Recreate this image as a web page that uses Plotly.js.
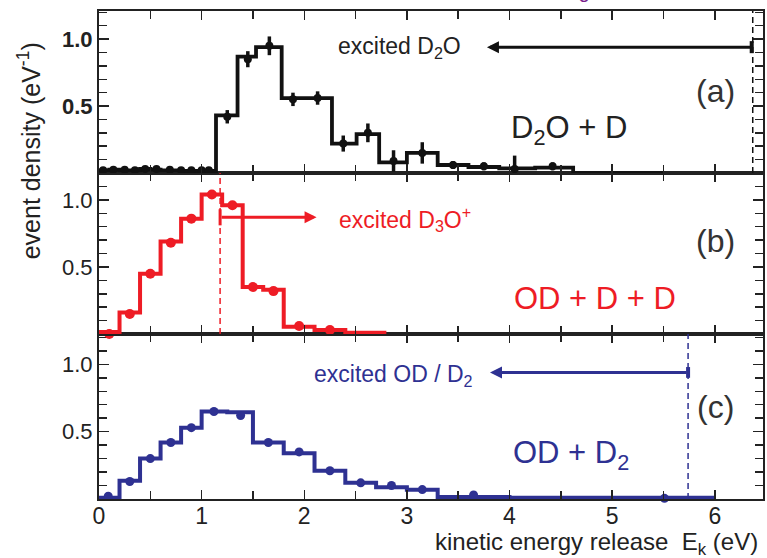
<!DOCTYPE html>
<html><head><meta charset="utf-8">
<script src="https://cdn.plot.ly/plotly-3.0.1.min.js"></script>
<style>html,body{margin:0;padding:0;background:#fff}#chart{width:767px;height:558px}</style>
</head><body><div id="chart"></div>
<script>
// ---- Panel (a): D2O + D (black) ----
const aEdges  = [0,0.1,0.2,0.3,0.4,0.5,0.6,0.7,0.8,0.9,1.0,1.14,1.35,1.53,1.78,2.03,2.27,2.51,2.73,3.0,3.3,3.6,3.9,4.25,4.62,5.5];
const aLevels = [0.02,0.025,0.02,0.02,0.03,0.025,0.02,0.02,0.015,0.015,0.015,0.43,0.87,0.94,0.56,0.56,0.22,0.29,0.08,0.15,0.06,0.045,0.035,0.04,0.0];
const aPtsX   = [0.04,0.14,0.25,0.35,0.45,0.56,0.69,0.8,0.9,1.0,1.07,1.25,1.45,1.66,1.89,2.13,2.38,2.62,2.87,3.15,3.45,3.75,4.05,4.42];
const aPtsY   = [0.02,0.025,0.025,0.02,0.03,0.03,0.025,0.02,0.02,0.02,0.02,0.42,0.85,0.95,0.55,0.56,0.22,0.30,0.09,0.15,0.06,0.05,0.03,0.05];
const aPtsErr = [0.02,0.02,0.02,0.02,0.02,0.02,0.02,0.02,0.02,0.02,0.02,0.05,0.06,0.07,0.05,0.05,0.06,0.07,0.08,0.08,0.03,0.03,0.10,0.03];

// ---- Panel (b): OD + D + D (red) ----
const bEdges  = [0,0.2,0.4,0.6,0.8,1.0,1.2,1.4,1.6,1.8,2.1,2.4,2.8];
const bLevels = [0.015,0.16,0.45,0.69,0.86,1.04,0.96,0.35,0.33,0.055,0.03,0.01];
const bPtsX   = [0.1,0.3,0.5,0.7,0.9,1.1,1.3,1.5,1.7,1.95,2.25];
const bPtsY   = [0.0,0.15,0.45,0.68,0.86,1.04,0.96,0.35,0.32,0.06,0.03];

// ---- Panel (c): OD + D2 (blue) ----
const cEdges  = [0,0.2,0.4,0.6,0.8,1.0,1.25,1.5,1.8,2.1,2.4,2.7,3.0,3.3,4.0,6.0];
const cLevels = [0.01,0.135,0.30,0.42,0.53,0.65,0.645,0.42,0.34,0.21,0.12,0.087,0.068,0.015,0.01];
const cPtsX   = [0.09,0.3,0.5,0.7,0.9,1.12,1.38,1.65,1.95,2.25,2.55,2.85,3.15,3.65,5.51];
const cPtsY   = [0.02,0.13,0.30,0.42,0.53,0.65,0.62,0.42,0.35,0.21,0.12,0.10,0.07,0.03,0.005];

// ---- Thresholds (dashed lines / arrows) ----
const thrA = 6.37, thrB = 1.18, thrC = 5.74;
const arrowEndA = 3.78, arrowEndB = 2.12, arrowEndC = 3.81;

// ---- Tick labels ----
const yTickVals = [0.5, 1.0];
const yTickText = ['0.5', '1.0'];
const xTickVals = [0,1,2,3,4,5,6];
const xTickText = ['0','1','2','3','4','5','6'];

const BLACK = '#111111', RED = '#ee1c25', BLUE = '#2e3192', AX = '#222222';

function stepTrace(edges, levels, xa, ya, color, w){
  return {x: edges, y: levels.concat([levels[levels.length-1]]), xaxis: xa, yaxis: ya,
    type:'scatter', mode:'lines', line:{shape:'hv', color: color, width: w}, hoverinfo:'skip'};
}

const data = [
  stepTrace(aEdges, aLevels, 'x3', 'y3', BLACK, 3.8),
  {x: aPtsX, y: aPtsY, xaxis:'x3', yaxis:'y3', type:'scatter', mode:'markers',
   marker:{color: BLACK, size: 8}, error_y:{type:'data', array: aPtsErr, visible:true, thickness:3.5, width:0, color: BLACK}, cliponaxis:false},
  stepTrace(bEdges, bLevels, 'x2', 'y2', RED, 4),
  {x: bPtsX, y: bPtsY, xaxis:'x2', yaxis:'y2', type:'scatter', mode:'markers',
   marker:{color: RED, size: 10}, cliponaxis:false},
  stepTrace(cEdges, cLevels, 'x', 'y', BLUE, 4),
  {x: cPtsX, y: cPtsY, xaxis:'x', yaxis:'y', type:'scatter', mode:'markers',
   marker:{color: BLUE, size: 9}, cliponaxis:false}
];

const FONT = 'Liberation Sans, Arial, sans-serif';

function xAx(anchor, labels){
  return {anchor: anchor, range:[0, 6.47], showline:true, mirror:'ticks', linewidth:2, linecolor: AX,
    ticks:'inside', ticklen:9, tickwidth:1.5, tickcolor: AX, tickmode:'array', tickvals: xTickVals, ticktext: xTickText,
    minor:{tickmode:'linear', tick0:0, dtick:0.5, ticks:'inside', ticklen:8, tickwidth:1.5, tickcolor: AX},
    showgrid:false, zeroline:false, showticklabels: labels, tickfont:{size:23, color: AX, family: FONT}, ticklabelstandoff: -5};
}
function yAx(domain, range, bold){
  return {domain: domain, range: range, showline:true, mirror:'ticks', linewidth:2, linecolor: AX,
    ticks:'inside', ticklen:10, tickwidth:1.5, tickcolor: AX, tickmode:'array', tickvals: yTickVals, ticktext: yTickText,
    minor:{tickmode:'linear', tick0:0, dtick:0.1, ticks:'inside', ticklen:8, tickwidth:1.5, tickcolor: AX},
    showgrid:false, zeroline:false, tickfont:{size:22, color: AX, family: FONT, weight: bold ? 'bold' : 'normal'}};
}

const layout = {
  width: 767, height: 558, margin:{l:99, r:4, t:11, b:59}, showlegend:false,
  paper_bgcolor:'#fff', plot_bgcolor:'#fff', font:{family: FONT, color: AX},
  xaxis: xAx('y', true),
  xaxis2: Object.assign(xAx('y2', false), {matches:'x'}),
  xaxis3: Object.assign(xAx('y3', false), {matches:'x'}),
  yaxis: yAx([0, 0.338], [0, 1.225], false),
  yaxis2: Object.assign(yAx([0.338, 0.668], [0, 1.2], false), {anchor:'x2'}),
  yaxis3: Object.assign(yAx([0.668, 1], [0, 1.21], true), {anchor:'x3'}),
  shapes: [
    {type:'line', xref:'x3', yref:'y3 domain', x0: thrA, x1: thrA, y0:0, y1:1, line:{color: BLACK, width:1.5, dash:'6px,4px'}},
    {type:'line', xref:'x2', yref:'y2 domain', x0: thrB, x1: thrB, y0:0, y1:1, line:{color: RED, width:1.5, dash:'6px,4px'}},
    {type:'line', xref:'x', yref:'y domain', x0: thrC, x1: thrC, y0:0, y1:1, line:{color: BLUE, width:1.5, dash:'6px,4px'}},
    {type:'line', xref:'x3', yref:'y3', x0: thrA-0.01, x1: thrA-0.01, y0:0.895, y1:0.985, line:{color: BLACK, width:4}},
    {type:'line', xref:'x2', yref:'y2', x0: thrB, x1: thrB, y0:0.81, y1:0.93, line:{color: RED, width:3}},
    {type:'line', xref:'x', yref:'y', x0: thrC, x1: thrC, y0:0.90, y1:0.98, line:{color: BLUE, width:4}}
  ],
  annotations: [
    {xref:'x3', yref:'y3', x: arrowEndA, y:0.94, axref:'x3', ayref:'y3', ax: thrA-0.01, ay:0.94, text:'', showarrow:true, arrowhead:2, arrowsize:0.8, arrowwidth:3, arrowcolor: BLACK},
    {xref:'x2', yref:'y2', x: arrowEndB, y:0.87, axref:'x2', ayref:'y2', ax: thrB, ay:0.87, text:'', showarrow:true, arrowhead:2, arrowsize:0.8, arrowwidth:3, arrowcolor: RED},
    {xref:'x', yref:'y', x: arrowEndC, y:0.94, axref:'x', ayref:'y', ax: thrC, ay:0.94, text:'', showarrow:true, arrowhead:2, arrowsize:0.8, arrowwidth:3, arrowcolor: BLUE},

    {xref:'x3', yref:'y3', x:3.55, y:0.94, xanchor:'right', yanchor:'middle', showarrow:false, text:'excited D<sub>2</sub>O', font:{size:23, color:'#222'}},
    {xref:'x2', yref:'y2', x:2.32, y:0.86, xanchor:'left', yanchor:'middle', showarrow:false, text:'excited D<sub>3</sub>O<sup>+</sup>', font:{size:23, color: RED}},
    {xref:'x', yref:'y', x:3.66, y:0.92, xanchor:'right', yanchor:'middle', showarrow:false, text:'excited OD / D<sub>2</sub>', font:{size:23, color: BLUE}},

    {xref:'x3', yref:'y3', x:6.01, y:0.61, xanchor:'center', yanchor:'middle', showarrow:false, text:'(a)', font:{size:32, color:'#333'}},
    {xref:'x2', yref:'y2', x:6.01, y:0.69, xanchor:'center', yanchor:'middle', showarrow:false, text:'(b)', font:{size:32, color:'#333'}},
    {xref:'x', yref:'y', x:6.01, y:0.68, xanchor:'center', yanchor:'middle', showarrow:false, text:'(c)', font:{size:32, color:'#333'}},

    {xref:'x3', yref:'y3', x:4.58, y:0.32, xanchor:'center', yanchor:'middle', showarrow:false, text:'D<sub>2</sub>O + D', font:{size:31, color:'#222'}},
    {xref:'x2', yref:'y2', x:4.83, y:0.265, xanchor:'center', yanchor:'middle', showarrow:false, text:'OD + D + D', font:{size:31, color: RED}},
    {xref:'x', yref:'y', x:4.6, y:0.33, xanchor:'center', yanchor:'middle', showarrow:false, text:'OD + D<sub>2</sub>', font:{size:31, color: BLUE}},

    {xref:'paper', yref:'paper', x:-0.105, y:0.713, xanchor:'center', yanchor:'middle', textangle:-90, showarrow:false, text:'event density (eV<sup>-1</sup>)', font:{size:25, color:'#222'}},
    {xref:'paper', yref:'paper', x:0.9955, y:-0.091, xanchor:'right', yanchor:'middle', showarrow:false, text:'kinetic energy release\u00a0\u00a0E<sub>k</sub> (eV)', font:{size:24, color:'#222'}},
    {xref:'paper', yref:'paper', x:0.731, y:1.03, xanchor:'center', yanchor:'middle', showarrow:false, text:'3', font:{size:18, color:'#7a1e8c'}}
  ]
};

Plotly.newPlot('chart', data, layout, {staticPlot:true, displayModeBar:false});
</script></body></html>
